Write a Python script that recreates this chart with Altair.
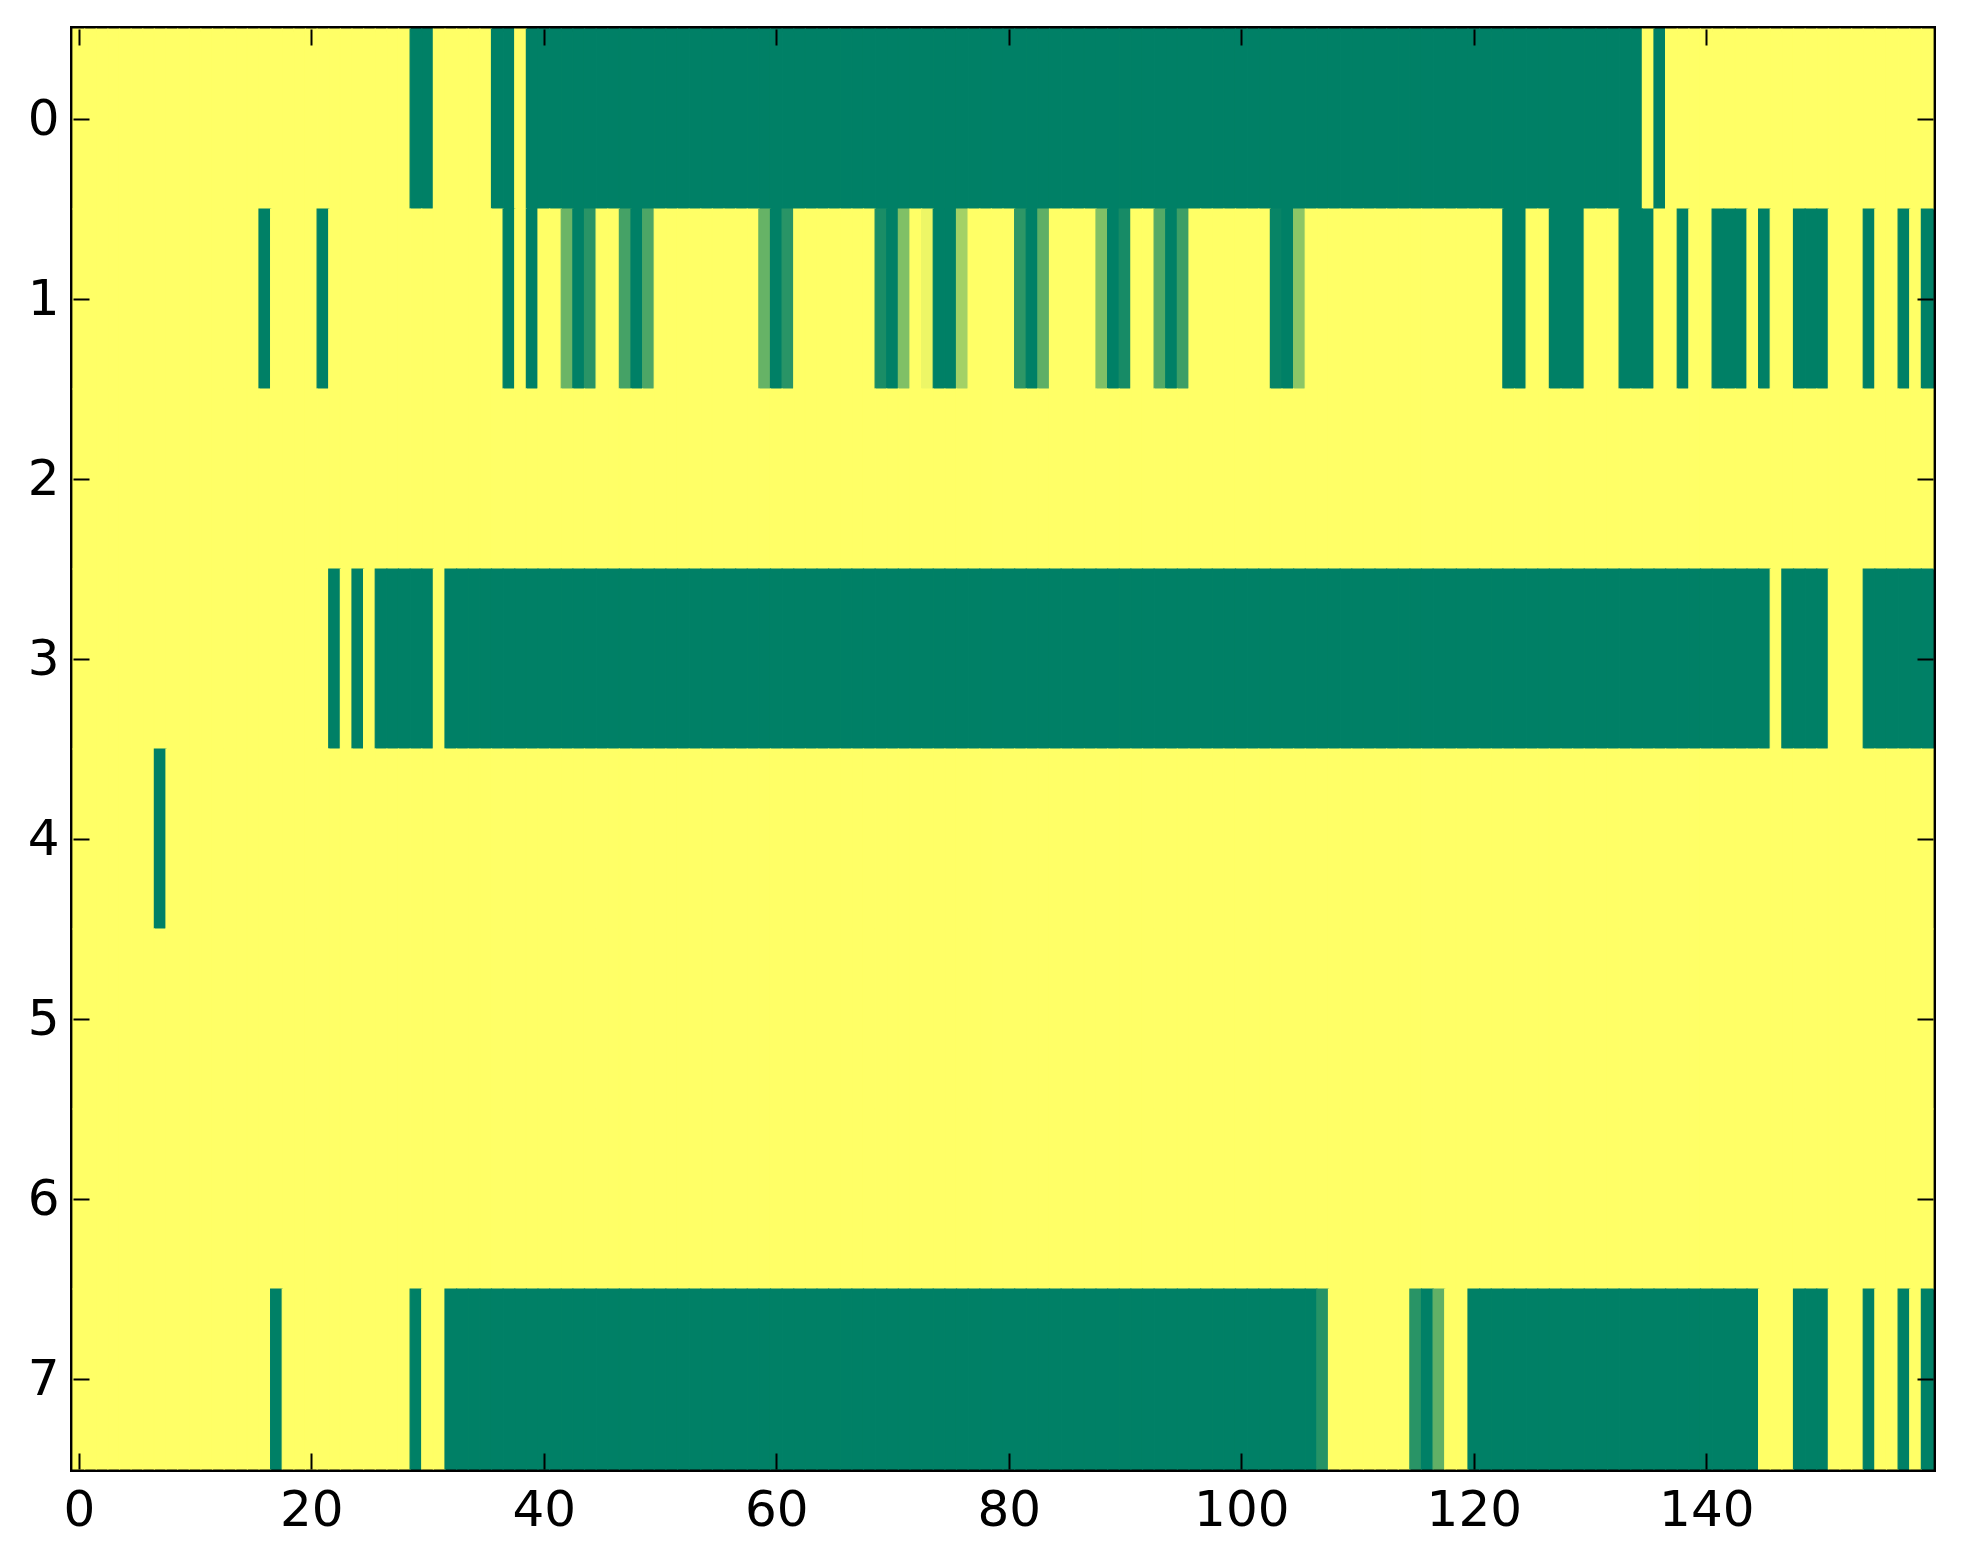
import altair as alt
import pandas as pd

row_labels = [0, 1, 2, 3, 4, 5, 6, 7]
x_ticks = [0, 20, 40, 60, 80, 100, 120, 140]

# one list per image row, 160 columns each, 20 values per line
row0 = [
    1, 1, 1, 1, 1, 1, 1, 1, 1, 1, 1, 1, 1, 1, 1, 1, 1, 1, 1, 1,
    1, 1, 1, 1, 1, 1, 1, 1, 1, 0, 0, 1, 1, 1, 1, 1, 0, 0, 1, 0,
    0, 0, 0, 0, 0, 0, 0, 0, 0, 0, 0, 0, 0, 0, 0, 0, 0, 0, 0, 0,
    0, 0, 0, 0, 0, 0, 0, 0, 0, 0, 0, 0, 0, 0, 0, 0, 0, 0, 0, 0,
    0, 0, 0, 0, 0, 0, 0, 0, 0, 0, 0, 0, 0, 0, 0, 0, 0, 0, 0, 0,
    0, 0, 0, 0, 0, 0, 0, 0, 0, 0, 0, 0, 0, 0, 0, 0, 0, 0, 0, 0,
    0, 0, 0, 0, 0, 0, 0, 0, 0, 0, 0, 0, 0, 0, 0, 1, 0, 1, 1, 1,
    1, 1, 1, 1, 1, 1, 1, 1, 1, 1, 1, 1, 1, 1, 1, 1, 1, 1, 1, 1,
]
row1 = [
    1, 1, 1, 1, 1, 1, 1, 1, 1, 1, 1, 1, 1, 1, 1, 1, 0, 1, 1, 1,
    1, 0, 1, 1, 1, 1, 1, 1, 1, 1, 1, 1, 1, 1, 1, 1, 1, 0, 1, 0,
    1, 1, .42, 0, .16, 1, 1, .27, 0, .3, 1, 1, 1, 1, 1, 1, 1, 1, 1, .4,
    0, .16, 1, 1, 1, 1, 1, 1, 1, .1, 0, .5, 1, .93, 0, 0, .64, 1, 1, 1,
    1, .18, 0, .37, 1, 1, 1, 1, .5, 0, .09, 1, 1, .33, 0, .24, 1, 1, 1, 1,
    1, 1, 1, .03, 0, .55, 1, 1, 1, 1, 1, 1, 1, 1, 1, 1, 1, 1, 1, 1,
    1, 1, 1, 0, 0, 1, 1, 0, 0, 0, 1, 1, 1, 0, 0, 0, 1, 1, 0, 1,
    1, 0, 0, 0, 1, 0, 1, 1, 0, 0, 0, 1, 1, 1, 0, 1, 1, 0, 1, 0,
]
row2 = [
    1, 1, 1, 1, 1, 1, 1, 1, 1, 1, 1, 1, 1, 1, 1, 1, 1, 1, 1, 1,
    1, 1, 1, 1, 1, 1, 1, 1, 1, 1, 1, 1, 1, 1, 1, 1, 1, 1, 1, 1,
    1, 1, 1, 1, 1, 1, 1, 1, 1, 1, 1, 1, 1, 1, 1, 1, 1, 1, 1, 1,
    1, 1, 1, 1, 1, 1, 1, 1, 1, 1, 1, 1, 1, 1, 1, 1, 1, 1, 1, 1,
    1, 1, 1, 1, 1, 1, 1, 1, 1, 1, 1, 1, 1, 1, 1, 1, 1, 1, 1, 1,
    1, 1, 1, 1, 1, 1, 1, 1, 1, 1, 1, 1, 1, 1, 1, 1, 1, 1, 1, 1,
    1, 1, 1, 1, 1, 1, 1, 1, 1, 1, 1, 1, 1, 1, 1, 1, 1, 1, 1, 1,
    1, 1, 1, 1, 1, 1, 1, 1, 1, 1, 1, 1, 1, 1, 1, 1, 1, 1, 1, 1,
]
row3 = [
    1, 1, 1, 1, 1, 1, 1, 1, 1, 1, 1, 1, 1, 1, 1, 1, 1, 1, 1, 1,
    1, 1, 0, 1, 0, 1, 0, 0, 0, 0, 0, 1, 0, 0, 0, 0, 0, 0, 0, 0,
    0, 0, 0, 0, 0, 0, 0, 0, 0, 0, 0, 0, 0, 0, 0, 0, 0, 0, 0, 0,
    0, 0, 0, 0, 0, 0, 0, 0, 0, 0, 0, 0, 0, 0, 0, 0, 0, 0, 0, 0,
    0, 0, 0, 0, 0, 0, 0, 0, 0, 0, 0, 0, 0, 0, 0, 0, 0, 0, 0, 0,
    0, 0, 0, 0, 0, 0, 0, 0, 0, 0, 0, 0, 0, 0, 0, 0, 0, 0, 0, 0,
    0, 0, 0, 0, 0, 0, 0, 0, 0, 0, 0, 0, 0, 0, 0, 0, 0, 0, 0, 0,
    0, 0, 0, 0, 0, 0, 1, 0, 0, 0, 0, 1, 1, 1, 0, 0, 0, 0, 0, 0,
]
row4 = [
    1, 1, 1, 1, 1, 1, 1, 0, 1, 1, 1, 1, 1, 1, 1, 1, 1, 1, 1, 1,
    1, 1, 1, 1, 1, 1, 1, 1, 1, 1, 1, 1, 1, 1, 1, 1, 1, 1, 1, 1,
    1, 1, 1, 1, 1, 1, 1, 1, 1, 1, 1, 1, 1, 1, 1, 1, 1, 1, 1, 1,
    1, 1, 1, 1, 1, 1, 1, 1, 1, 1, 1, 1, 1, 1, 1, 1, 1, 1, 1, 1,
    1, 1, 1, 1, 1, 1, 1, 1, 1, 1, 1, 1, 1, 1, 1, 1, 1, 1, 1, 1,
    1, 1, 1, 1, 1, 1, 1, 1, 1, 1, 1, 1, 1, 1, 1, 1, 1, 1, 1, 1,
    1, 1, 1, 1, 1, 1, 1, 1, 1, 1, 1, 1, 1, 1, 1, 1, 1, 1, 1, 1,
    1, 1, 1, 1, 1, 1, 1, 1, 1, 1, 1, 1, 1, 1, 1, 1, 1, 1, 1, 1,
]
row5 = list(row2)
row6 = list(row2)
row7 = [
    1, 1, 1, 1, 1, 1, 1, 1, 1, 1, 1, 1, 1, 1, 1, 1, 1, 0, 1, 1,
    1, 1, 1, 1, 1, 1, 1, 1, 1, 0, 1, 1, 0, 0, 0, 0, 0, 0, 0, 0,
    0, 0, 0, 0, 0, 0, 0, 0, 0, 0, 0, 0, 0, 0, 0, 0, 0, 0, 0, 0,
    0, 0, 0, 0, 0, 0, 0, 0, 0, 0, 0, 0, 0, 0, 0, 0, 0, 0, 0, 0,
    0, 0, 0, 0, 0, 0, 0, 0, 0, 0, 0, 0, 0, 0, 0, 0, 0, 0, 0, 0,
    0, 0, 0, 0, 0, 0, 0, .15, 1, 1, 1, 1, 1, 1, 1, .16, 0, .38, 1, 1,
    0, 0, 0, 0, 0, 0, 0, 0, 0, 0, 0, 0, 0, 0, 0, 0, 0, 0, 0, 0,
    0, 0, 0, 0, 0, 1, 1, 1, 0, 0, 0, 1, 1, 1, 0, 1, 1, 0, 1, 0,
]
rows = [row0, row1, row2, row3, row4, row5, row6, row7]

records = []
for r, values in zip(row_labels, rows):
    for c, v in enumerate(values):
        records.append(
            {"col": c - 0.5, "col2": c + 0.5, "row": r - 0.5, "row2": r + 0.5, "value": v}
        )
df = pd.DataFrame(records)

x_scale = alt.Scale(domain=[-0.5, 159.5], nice=False, zero=False)
y_scale = alt.Scale(domain=[-0.5, 7.5], nice=False, zero=False, reverse=True)
summer = alt.Scale(domain=[0, 1], range=["#008066", "#ffff66"], interpolate="rgb")

# matplotlib-style inward ticks: pull the axis inside and point ticks outwards
ticks = dict(
    offset=-16,
    tickSize=16,
    tickWidth=2,
    tickColor="black",
    domain=False,
    grid=False,
    zindex=1,
    title=None,
)

cells = (
    alt.Chart(df)
    .mark_rect(strokeWidth=1.2)
    .encode(
        x=alt.X("col:Q", scale=x_scale).axis(
            values=x_ticks, orient="bottom", labelPadding=16, **ticks
        ),
        x2="col2",
        y=alt.Y("row:Q", scale=y_scale).axis(
            values=row_labels, orient="left", labelPadding=14, **ticks
        ),
        y2="row2",
        color=alt.Color("value:Q", scale=summer, legend=None),
        stroke=alt.Stroke("value:Q", scale=summer, legend=None),
    )
)

box = (
    alt.Chart(df)
    .mark_rect(opacity=0)
    .encode(
        x=alt.X("col:Q", scale=x_scale).axis(
            values=x_ticks, orient="top", labels=False, **ticks
        ),
        x2="col2",
        y=alt.Y("row:Q", scale=y_scale).axis(
            values=row_labels, orient="right", labels=False, **ticks
        ),
        y2="row2",
    )
)

chart = (
    alt.layer(cells, box)
    .resolve_axis(x="independent", y="independent")
    .properties(
        width=1860,
        height=1440,
        padding={"left": 65, "top": 21, "right": 20, "bottom": 80},
        autosize=alt.AutoSizeParams(type="none"),
    )
    .configure_view(stroke="black", strokeWidth=6)
    .configure_axis(
        labelFont="DejaVu Sans",
        labelFontSize=50,
        labelColor="black",
    )
)

chart.save("out.html", embed_options={"renderer": "svg", "actions": False})
